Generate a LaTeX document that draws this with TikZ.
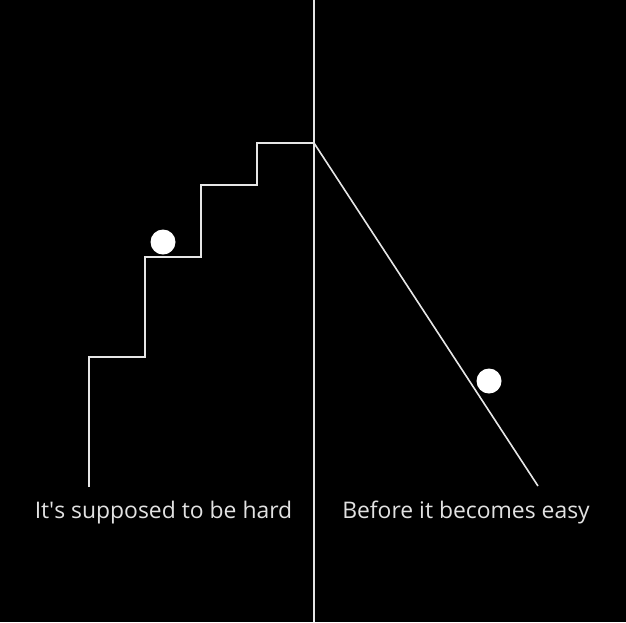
\documentclass[tikz,border=0pt]{standalone}
\usepackage{fontspec}
\setmainfont{Open Sans}
\usetikzlibrary{positioning}
\definecolor{bg}{HTML}{000000}
\definecolor{ink}{HTML}{E6E6E6}
\definecolor{caption}{HTML}{E2E2E2}

\begin{document}
\begin{tikzpicture}[x=1pt, y=-1pt,
    every node/.style={font=\fontsize{22.9}{27}\selectfont},
    rule/.style={ink, line width=1.6pt},
    lab/.style={text=caption, anchor=base},
    ball/.style={fill=white},
]
\fill[bg] (0,0) rectangle (626,622);
\useasboundingbox (0,0) rectangle (626,622);

% the divider
\draw[rule] (314,0) -- (314,622);

% the climb, one step at a time
\draw[rule, line join=miter] (89,487) -- (89,357) -- (145,357) -- (145,257)
    -- (201,257) -- (201,185) -- (257,185) -- (257,143) -- (314,143);
% and the slide down
\draw[rule] (314,143) -- (538,486);

\fill[ball] (163,242) circle (12.5);
\fill[ball] (489,381) circle (12.5);

\node[lab] (hard) at (163.5,518) {It\textquotesingle s supposed to be hard};
\node[lab] (easy) at (466,518) {Before it becomes easy};
\end{tikzpicture}
\end{document}
